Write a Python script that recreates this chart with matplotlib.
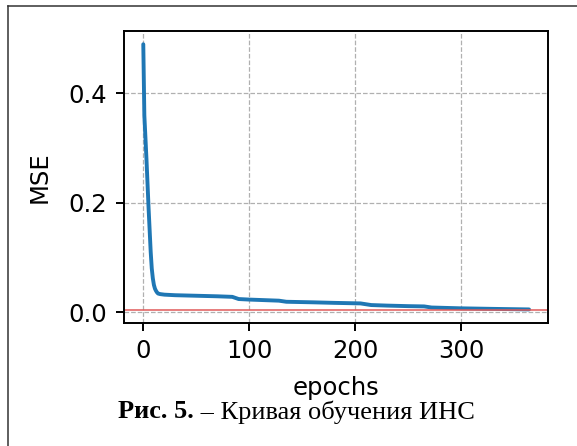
import matplotlib
matplotlib.use("Agg")
import matplotlib.pyplot as plt
from matplotlib.lines import Line2D

# training curve
epochs = [0, 1, 2, 3, 4, 5, 6, 7, 8, 9, 10, 11, 12, 13, 14, 16, 20,
          30, 50, 70, 84, 90, 100, 128, 135, 160, 180, 205, 215, 230, 250,
          265, 272, 300, 330, 364]
mse = [0.49, 0.36, 0.32, 0.28, 0.235, 0.19, 0.15, 0.11, 0.08, 0.062,
       0.05, 0.043, 0.039, 0.036, 0.034, 0.033, 0.032,
       0.031, 0.030, 0.029, 0.028, 0.024, 0.023, 0.021, 0.019, 0.018,
       0.017, 0.016, 0.013, 0.012, 0.011, 0.0105, 0.0085, 0.007, 0.006, 0.005]
target_level = 0.0045

x_ticks = [0, 100, 200, 300]
y_ticks = [0.0, 0.2, 0.4]

caption_bold = "Рис. 5."
caption_rest = " – Кривая обучения ИНС"

fig = plt.figure(figsize=(5.77, 4.46), dpi=100)
ax = fig.add_axes([0.2149, 0.2765, 0.7354, 0.654])

ax.plot(epochs, mse, color="#1f77b4", lw=2.8, solid_capstyle="round")
ax.axhline(y=target_level, color="#e05a5a", lw=1.1)

ax.set_xticks(x_ticks)
ax.set_yticks(y_ticks)
ax.set_yticklabels([f"{v:.1f}" for v in y_ticks])
ax.grid(True, linestyle="--", color="#b0b0b0", lw=0.9)
ax.tick_params(labelsize=17.5, length=6, width=1.4, pad=6)
for s in ax.spines.values():
    s.set_linewidth(1.4)

ax.set_xlabel("epochs", fontsize=17.5, labelpad=9)
ax.set_ylabel("MSE", fontsize=17.5, labelpad=12)

# frame of the page box
fig.add_artist(Line2D([8 / 577, 8 / 577], [0, 1 - 5.5 / 446], transform=fig.transFigure,
                      color="#333333", lw=1.1))
fig.add_artist(Line2D([8 / 577, 1], [1 - 5.5 / 446, 1 - 5.5 / 446], transform=fig.transFigure,
                      color="#333333", lw=1.1))

# caption: bold part + regular part, centred as a whole
cy = 1 - 412 / 446
t1 = fig.text(0, cy, caption_bold, ha="left", va="center", fontsize=19,
              family="Liberation Serif", weight="bold")
t2 = fig.text(0, cy, caption_rest, ha="left", va="center", fontsize=19,
              family="Liberation Serif")
r = fig.canvas.get_renderer()
w1 = t1.get_window_extent(r).width
w2 = t2.get_window_extent(r).width
x0 = 296.5 - (w1 + w2) / 2
t1.set_x(x0 / 577)
t2.set_x((x0 + w1) / 577)

fig.savefig("out.png", dpi=100, facecolor="white")
